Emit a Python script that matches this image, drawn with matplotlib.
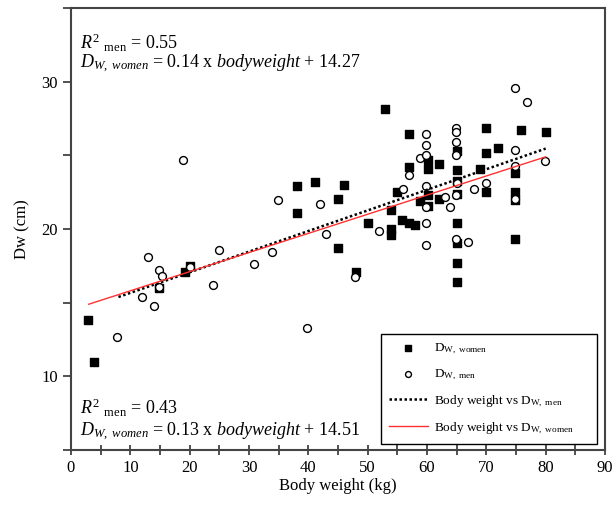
import matplotlib
matplotlib.use("Agg")
import matplotlib.pyplot as plt
import numpy as np
from matplotlib.ticker import MultipleLocator

plt.rcParams['font.family'] = ['Liberation Serif', 'DejaVu Serif']
plt.rcParams['mathtext.fontset'] = 'custom'
plt.rcParams['mathtext.rm'] = 'Liberation Serif'
plt.rcParams['mathtext.it'] = 'Liberation Serif:italic'

# body weight (kg) and Dw (cm), women
w_women = [2.85, 3.8, 20.05, 19.2, 14.9, 38.1, 41.1, 38.1, 45.0, 46.0, 45.0, 48.0,
           50.0, 53.0, 53.9, 53.9, 53.9, 54.9, 55.8, 56.9, 58.0, 56.9, 56.9, 58.9,
           60.1, 60.1, 60.1, 60.1, 62.1, 62.0, 65, 65, 65, 65, 65, 65, 65, 65,
           69.0, 70.0, 70.0, 70.0, 71.9, 74.9, 74.9, 74.9, 74.9, 75.9, 80.1]
d_women = [13.8, 11.0, 17.5, 17.07, 16.0, 22.9, 23.2, 21.1, 22.05, 22.97, 18.75, 17.1,
           20.4, 28.15, 21.3, 20.0, 19.6, 22.5, 20.6, 20.4, 20.25, 26.45, 24.2, 21.9,
           24.7, 24.1, 22.3, 21.6, 24.4, 22.05, 25.3, 24.0, 23.24, 22.4, 20.4, 19.05, 17.7, 16.4,
           24.1, 26.9, 25.2, 22.5, 25.5, 23.8, 22.5, 22.0, 19.3, 26.7, 26.6]

# men
w_men = [18.9, 34.9, 41.9, 42.9, 12.9, 24.9, 33.9, 30.9, 14.8, 15.4, 20.0, 14.9,
         23.9, 11.9, 14.0, 7.75, 39.8, 47.9, 51.9, 56.0, 56.9, 58.9, 59.85, 59.85,
         59.85, 59.85, 59.85, 59.85, 59.85, 62.95, 63.9, 64.9, 64.9, 64.9, 64.9, 65.0,
         64.9, 64.9, 66.9, 67.9, 69.9, 74.9, 76.9, 74.9, 74.9, 74.9, 79.9]
d_men = [24.7, 22.0, 21.7, 19.65, 18.1, 18.6, 18.45, 17.6, 17.2, 16.85, 17.4, 16.1,
         16.2, 15.4, 14.8, 12.7, 13.3, 16.75, 19.9, 22.75, 23.65, 24.8, 26.45, 25.7,
         25.0, 22.95, 21.5, 20.4, 18.9, 22.2, 21.5, 26.9, 26.6, 25.9, 25.05, 23.1,
         22.3, 19.3, 19.1, 22.7, 23.1, 29.6, 28.6, 25.4, 24.3, 22.07, 24.65]

# regression lines
men_slope, men_int = 0.14, 14.27
women_slope, women_int = 0.13, 14.51
men_range = [8, 80]
women_range = [3, 80]

fig = plt.figure(figsize=(6.13, 5.08), dpi=100)
ax = fig.add_axes([0.1158, 0.1142, 0.8712, 0.871])

ax.scatter(w_women, d_women, marker='s', s=34, color='black', zorder=3,
           label=r'D$_{\mathrm{W,\ women}}$')
ax.scatter(w_men, d_men, marker='o', s=32, facecolor='white', edgecolor='black',
           linewidths=1.0, zorder=4, label=r'D$_{\mathrm{W,\ men}}$')

xm = np.array(men_range)
ax.plot(xm, men_slope * xm + men_int, color='black', linestyle=(0, (1, 1)), lw=1.8,
        zorder=5, label=r'Body weight vs D$_{\mathrm{W,\ men}}$')
xw = np.array(women_range)
ax.plot(xw, women_slope * xw + women_int, color='#ff3030', lw=1.0, zorder=5,
        label=r'Body weight vs D$_{\mathrm{W,\ women}}$')

ax.set_xlim(0, 90)
ax.set_ylim(5, 35.05)
ax.xaxis.set_major_locator(MultipleLocator(10))
ax.xaxis.set_minor_locator(MultipleLocator(5))
ax.yaxis.set_major_locator(MultipleLocator(10))
ax.yaxis.set_minor_locator(MultipleLocator(5))
ax.tick_params(axis='x', which='both', direction='inout', length=7, width=1.2,
               labelsize=12, colors='#333333', labelcolor='black')
ax.tick_params(axis='y', which='both', direction='out', length=6, width=1.2,
               labelsize=12, colors='#333333', labelcolor='black')
for sp in ax.spines.values():
    sp.set_linewidth(1.5)
    sp.set_color('#444444')

ax.set_xlabel("Body weight (kg)", fontsize=12, labelpad=2)
ax.set_ylabel("Dw (cm)", fontsize=12, labelpad=8)

ax.text(0.017, 0.92, r"$R^{2}$ $_{\mathrm{men}}$ = 0.55", transform=ax.transAxes,
        fontsize=13, va='center')
ax.text(0.017, 0.872, r"$D_{W,\ women}$ = 0.14 x $bodyweight$ + 14.27",
        transform=ax.transAxes, fontsize=13, va='center')
ax.text(0.017, 0.095, r"$R^{2}$ $_{\mathrm{men}}$ = 0.43", transform=ax.transAxes,
        fontsize=13, va='center')
ax.text(0.017, 0.04, r"$D_{W,\ women}$ = 0.13 x $bodyweight$ + 14.51",
        transform=ax.transAxes, fontsize=13, va='center')

leg = ax.legend(loc='lower left', bbox_to_anchor=(0.58, 0.0136, 0.405, 0.24),
                mode='expand', borderaxespad=0, fancybox=False, edgecolor='black',
                fontsize=9.5, handlelength=3.0, handletextpad=0.4, labelspacing=0.9,
                framealpha=1, borderpad=0.6, markerscale=0.75)
leg.get_frame().set_linewidth(1.0)

fig.savefig("out.png", dpi=100)
